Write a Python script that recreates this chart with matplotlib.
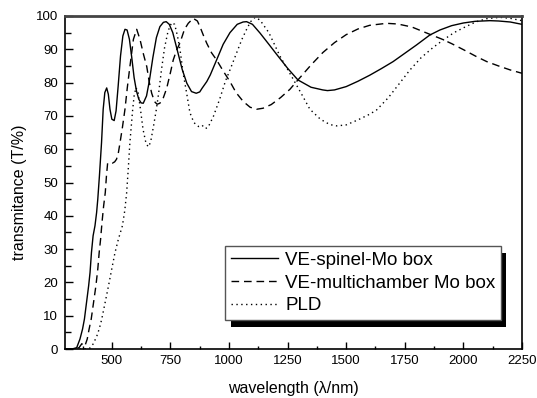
import matplotlib
matplotlib.use('Agg')
from matplotlib import pyplot as plt
from matplotlib.patches import Rectangle
from matplotlib.ticker import MultipleLocator

plt.rcParams['font.family'] = ['Liberation Sans', 'DejaVu Sans']

# VE-spinel-Mo box (solid)
spinel_wl = [300, 330, 350, 364, 375, 383, 392, 401, 407, 413, 420, 428, 435, 440,
             447, 456, 463, 470, 478, 485, 492, 500, 510, 518, 527, 537, 547, 556,
             565, 575, 585, 595, 605, 615, 625, 634, 648, 660, 675, 690, 705, 720,
             732, 745, 760, 780, 800, 820, 840, 860, 875, 885, 893, 905, 920, 947,
             975, 1004, 1035, 1060, 1075, 1100, 1132, 1170, 1203, 1250, 1294, 1350,
             1400, 1420, 1450, 1500, 1550, 1600, 1650, 1700, 1750, 1800, 1857, 1900,
             1950, 2000, 2050, 2113, 2150, 2200, 2250]
spinel_t = [0, 0, 0.4, 3, 6, 9, 14, 19, 23, 29, 34, 37, 41, 45,
            52, 62, 72, 77, 78.4, 76.5, 72, 69, 68.6, 71.5, 79, 88, 94, 96,
            95.8, 93, 87.5, 81.5, 77.5, 75, 73.9, 73.8, 76, 80.5, 87.5, 93.5, 96.8, 98.1,
            98.3, 97.5, 95, 89.5, 84, 79.8, 77.3, 76.8, 77.2, 78.3, 79.1, 80.3, 82.3, 86.8,
            91.5, 95, 97.5, 98.2, 98.3, 97.5, 94.9, 91.5, 88.5, 84.3, 80.8, 78.6,
            77.8, 77.6, 77.8, 78.8, 80.4, 82.2, 84.2, 86.3, 88.8, 91.3, 94.3, 95.8,
            97.1, 97.9, 98.4, 98.6, 98.5, 98.2, 97.5]

# VE-multichamber Mo box (dashed)
multi_wl = [300, 340, 360, 368, 372, 378, 385, 395, 403, 412, 422, 432, 440, 446,
            452, 458, 465, 472, 477, 482, 492, 502, 512, 520, 528, 535, 545, 556,
            566, 577, 592, 606, 620, 635, 649, 660, 670, 682, 693, 705, 720, 734,
            750, 762, 775, 791, 810, 826, 847, 865, 876, 890, 905, 925, 947, 975,
            1004, 1030, 1061, 1090, 1118, 1145, 1180, 1220, 1260, 1294, 1350, 1400,
            1450, 1500, 1550, 1600, 1672, 1720, 1780, 1857, 1907, 1950, 2000, 2056,
            2100, 2150, 2200, 2250]
multi_t = [0, 0, 0.4, 1.2, 1.6, 1.0, 0.9, 3, 6, 9, 14, 19, 24, 29,
           33, 38, 43, 47, 52, 55.8, 56, 55.8, 56.2, 57, 59, 62, 66.5, 72,
           78.5, 84.8, 93, 96, 93, 88.5, 84.8, 80, 76.8, 74.3, 73.5, 73.8, 75.5, 78.3,
           83, 86.8, 89.5, 92, 96, 97.8, 99.3, 98.5, 96.8, 94.3, 91.8, 89, 86.8, 83.5,
           80.3, 77, 74.3, 72.6, 72, 72.3, 73.4, 75.5, 78, 80.8, 85.3, 89,
           92, 94.4, 96.1, 97.2, 97.8, 97.6, 96.7, 94.5, 93.1, 91.7, 89.9, 87.8,
           86.3, 85, 83.8, 82.8]

# PLD (dotted)
pld_wl = [300, 380, 407, 420, 435, 446, 456, 470, 485, 499, 513, 528, 545, 555,
          563, 570, 577, 583, 589, 595, 603, 612, 622, 633, 645, 655, 665, 678,
          690, 700, 712, 725, 740, 755, 768, 780, 791, 805, 820, 833, 850, 870,
          885, 898, 910, 933, 960, 985, 1004, 1030, 1055, 1075, 1092, 1111, 1132,
          1170, 1217, 1274, 1310, 1345, 1390, 1430, 1460, 1500, 1550, 1600, 1630,
          1680, 1730, 1772, 1820, 1870, 1914, 1960, 2010, 2056, 2100, 2156, 2200, 2250]
pld_t = [0, 0, 0.3, 1.5, 3.7, 6, 8.7, 13.5, 18.7, 23.8, 28.8, 33, 37, 41.5,
         46.8, 54, 62, 67, 72, 76, 78.5, 77, 72, 66, 62, 60.7, 62, 67,
         72, 77, 84, 90.5, 95.5, 98, 97.5, 94, 89.8, 82.5, 76.5, 71, 68, 66.8,
         67.2, 66.2, 66.5, 69.8, 75, 80.5, 83.8, 88.5, 93, 96, 98.3, 99.6, 98.8,
         95, 88, 81, 76.5, 72, 69, 67.4, 67, 67.3, 68.8, 70.5, 71.8,
         75.5, 80, 83.8, 87.5, 90.5, 92.8, 95, 96.8, 98.3, 99.2, 99.6, 99.3, 98.6]

fig = plt.figure(figsize=(5.37, 3.98), dpi=100)
ax = fig.add_axes([0.121, 0.1231, 0.851, 0.8367])

ax.plot(spinel_wl, spinel_t, color='black', lw=1.0, ls='-', label='VE-spinel-Mo box')
ax.plot(multi_wl, multi_t, color='black', lw=1.0, ls=(0, (5.5, 3.5)), label='VE-multichamber Mo box')
ax.plot(pld_wl, pld_t, color='black', lw=1.0, ls=(0, (1, 2.5)), label='PLD')

ax.set_xlim(300, 2250)
ax.set_ylim(0, 100)
ax.set_xticks([500, 750, 1000, 1250, 1500, 1750, 2000, 2250])
ax.xaxis.set_minor_locator(MultipleLocator(125))
ax.yaxis.set_major_locator(MultipleLocator(10))
ax.yaxis.set_minor_locator(MultipleLocator(5))
ax.tick_params(which='both', direction='in', top=False, right=False, labelsize=9.5, width=1)
ax.tick_params(axis='x', which='major', length=5, pad=4)
ax.tick_params(axis='x', which='minor', length=2.5)
ax.tick_params(axis='y', which='major', length=5.5, pad=5)
ax.tick_params(axis='y', which='minor', length=4)

for side in ['left', 'bottom', 'right']:
    ax.spines[side].set_linewidth(1.2)
    ax.spines[side].set_color('black')
ax.spines['top'].set_linewidth(2)
ax.spines['top'].set_color('#444444')

ax.set_xlabel('wavelength (\u03bb/nm)', fontsize=11.5)
ax.set_ylabel('transmitance (T/%)', fontsize=11.5)
ax.xaxis.set_label_coords(0.5, -0.096)
ax.xaxis.label.set_va('top')
ax.yaxis.set_label_coords(-0.083, 0.471)

leg = ax.legend(loc='lower right', bbox_to_anchor=(0.954, 0.087), fontsize=13.5,
                frameon=True, fancybox=False, shadow=False, handlelength=2.5,
                handletextpad=0.4, borderpad=0.3, labelspacing=0.3,
                borderaxespad=0, framealpha=1)
leg.get_frame().set_edgecolor('#555555')
leg.get_frame().set_facecolor('white')
leg.get_frame().set_linewidth(1.0)
leg.set_zorder(5)

# hard black drop shadow like the original
fig.canvas.draw()
bb = leg.get_window_extent().transformed(fig.transFigure.inverted())
dx, dy = 5.5 / 537, 6.5 / 398
shadow = Rectangle((bb.x0 + dx, bb.y0 - dy), bb.width, bb.height,
                   transform=fig.transFigure, facecolor='black', edgecolor='none',
                   zorder=4.9, clip_on=False)
ax.add_patch(shadow)
ax.set_xlim(300, 2250)
ax.set_ylim(0, 100)

fig.savefig('out.png', dpi=100)
